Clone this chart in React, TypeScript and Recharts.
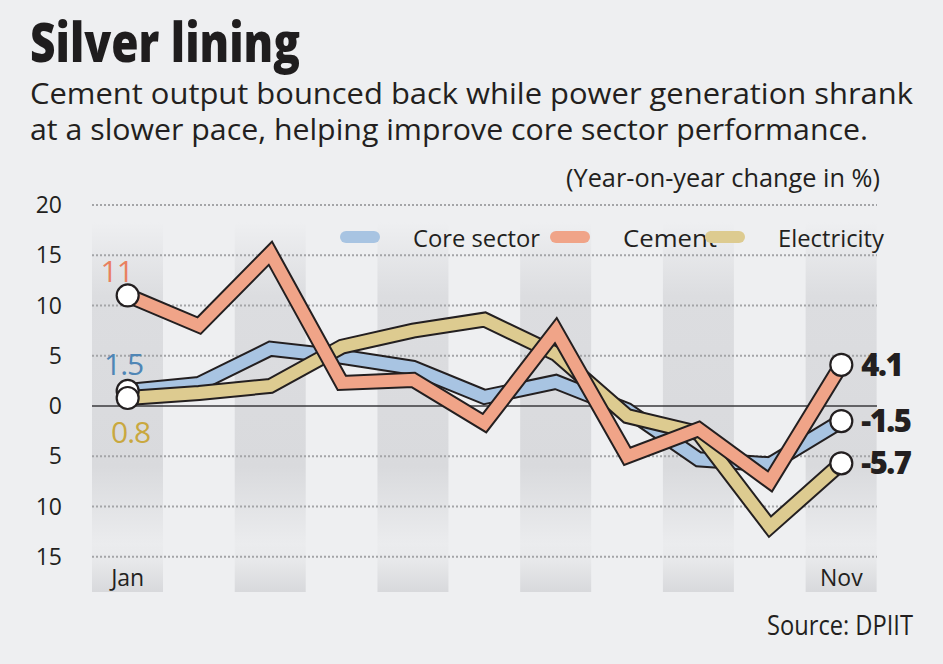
import React from 'react';
import { ComposedChart, Bar, Line, XAxis, YAxis, ReferenceLine } from 'recharts';

// ---- data ----
const months = ['Jan', 'Feb', 'Mar', 'Apr', 'May', 'Jun', 'Jul', 'Aug', 'Sep', 'Oct', 'Nov'];
const coreSector = [1.5, 2.2, 5.7, 4.9, 3.8, 0.9, 2.4, -0.4, -5.3, -5.8, -1.5];
const cement = [11, 8.0, 15.2, 2.3, 2.6, -1.7, 7.5, -5.0, -2.3, -7.5, 4.1];
const electricity = [0.8, 1.3, 2.0, 5.9, 7.5, 8.6, 5.2, -1.0, -2.7, -12.0, -5.7];
const yTicks = [-15, -10, -5, 0, 5, 10, 15, 20];
const shadedMonths = ['Jan', 'Mar', 'May', 'Jul', 'Sep', 'Nov'];
const seriesNames = ['Core sector', 'Cement', 'Electricity'];

const Y_MIN = -18.5;
const Y_MAX = 20;
const BAND_TOP = 18.3;

const data = months.map((m, i) => ({
  month: m,
  core: coreSector[i],
  cement: cement[i],
  electricity: electricity[i],
  band: shadedMonths.includes(m) ? [Y_MIN, BAND_TOP] : null,
}));

const BG = '#eeeff1';
const INK = '#231f20';
const FONT = '"Open Sans", "Noto Sans", sans-serif';

const series = [
  { key: 'core', name: seriesNames[0], color: '#a8c4e2', labelColor: '#4f86b6', firstDx: -4, firstDy: -16 },
  { key: 'cement', name: seriesNames[1], color: '#f0a488', labelColor: '#e9805f', firstDx: -11, firstDy: -13 },
  { key: 'electricity', name: seriesNames[2], color: '#ddcb90', labelColor: '#c9a83f', firstDx: 3, firstDy: 45 },
];

const makeDot = (s: any) => (props: any) => {
  const { cx, cy, index, value } = props;
  const last = months.length - 1;
  if (index !== 0 && index !== last) return <g key={`d-${s.key}-${index}`} />;
  return (
    <g key={`d-${s.key}-${index}`}>
      <circle cx={cx} cy={cy} r={11} fill="#ffffff" stroke={INK} strokeWidth={2.2} />
      {index === 0 ? (
        <text x={cx + s.firstDx} y={cy + s.firstDy} textAnchor="middle" fontFamily={FONT} fontSize={30}
          fill={s.labelColor} letterSpacing={-1}>
          {String(value)}
        </text>
      ) : (
        <text x={cx + 20} y={cy + 11} textAnchor="start" fontFamily={FONT} fontSize={31} fontWeight={800}
          fill={INK} letterSpacing={-1.5}>
          {value.toFixed(1)}
        </text>
      )}
    </g>
  );
};

const XTick = (props: any) => {
  const { x, y, payload, index } = props;
  const show = index === 0 || index === months.length - 1;
  if (!show) return <g />;
  return (
    <text x={x} y={y - 6} textAnchor="middle" fontFamily={FONT} fontSize={23} fill={INK}>
      {payload.value}
    </text>
  );
};

const LegendOverlay = () => {
  const pillX = [340, 550, 705];
  const textX = [413, 623, 778];
  const textLen = [127, 94, 106];
  return (
    <g>
      {series.map((s, i) => (
        <text key={s.key} x={textX[i]} y={247} fontFamily={FONT} fontSize={24} fill={INK} textLength={textLen[i]}
          lengthAdjust="spacingAndGlyphs">
          {s.name}
        </text>
      ))}
      {series.map((s, i) => (
        <rect key={`p-${s.key}`} x={pillX[i]} y={231} width={40} height={12} rx={6} fill={s.color} />
      ))}
    </g>
  );
};

export default function App() {
  return (
    <div style={{ position: 'fixed', left: 0, top: 0, width: 943, height: 664, background: BG, overflow: 'hidden' }}>
      <ComposedChart
        width={943}
        height={664}
        data={data}
        margin={{ top: 205, right: 66, bottom: 42, left: 0 }}
        barCategoryGap={0}
        barGap={0}
      >
        <defs>
          <linearGradient id="bandFill" x1="0" y1="0" x2="0" y2="1">
            <stop offset="0" stopColor="#eeeff1" />
            <stop offset="0.2" stopColor="#dcdde0" />
            <stop offset="0.66" stopColor="#d9dadd" />
            <stop offset="0.87" stopColor="#ebecee" />
            <stop offset="0.91" stopColor="#e8e9eb" />
            <stop offset="1" stopColor="#d8d9dc" />
          </linearGradient>
        </defs>
        <XAxis dataKey="month" axisLine={false} tickLine={false} tickSize={0} tickMargin={0} interval={0}
          height={30} tick={<XTick />} />
        <YAxis type="number" domain={[Y_MIN, Y_MAX]} ticks={yTicks} allowDataOverflow width={92}
          axisLine={false} tickLine={false} tickSize={0} tickMargin={30}
          tickFormatter={(v: number) => String(Math.abs(v))}
          tick={{ fontSize: 23, fill: INK, fontFamily: FONT }} />
        <Bar dataKey="band" fill="url(#bandFill)" isAnimationActive={false} legendType="none" />
        {yTicks.filter((t) => t !== 0).map((t) => (
          <ReferenceLine key={`g${t}`} y={t} stroke="#a4a5a8" strokeWidth={2} strokeDasharray="2 2" />
        ))}
        <ReferenceLine y={0} stroke="#3a3a3c" strokeWidth={1.6} />
        {[series[0], series[2], series[1]].map((s) => [
          <Line key={`o-${s.key}`} type="linear" dataKey={s.key} stroke={INK} strokeWidth={16} dot={false}
            isAnimationActive={false} legendType="none" strokeLinejoin="miter" />,
          <Line key={`c-${s.key}`} type="linear" dataKey={s.key} stroke={s.color} strokeWidth={12} dot={false}
            isAnimationActive={false} legendType="none" strokeLinejoin="miter" />,
        ])}
        {[series[1], series[0], series[2]].map((s) => (
          <Line key={`e-${s.key}`} type="linear" dataKey={s.key} stroke="none" strokeWidth={0}
            dot={makeDot(s)} activeDot={false} isAnimationActive={false} legendType="none" />
        ))}
      </ComposedChart>
      <svg width={943} height={664} style={{ position: 'absolute', left: 0, top: 0, pointerEvents: 'none' }}>
        <LegendOverlay />
        <text x={30} y={62} fontFamily={FONT} fontWeight={800} fontSize={54} fill="#1f1d1e" textLength={270}
          lengthAdjust="spacingAndGlyphs">Silver lining</text>
        <text x={30} y={104} fontFamily={FONT} fontSize={29} fill={INK} textLength={883}
          lengthAdjust="spacingAndGlyphs">Cement output bounced back while power generation shrank</text>
        <text x={30} y={140} fontFamily={FONT} fontSize={29} fill={INK} textLength={838}
          lengthAdjust="spacingAndGlyphs">at a slower pace, helping improve core sector performance.</text>
        <text x={566} y={187} fontFamily={FONT} fontSize={25} fill={INK} textLength={314}
          lengthAdjust="spacingAndGlyphs">(Year-on-year change in %)</text>
        <text x={767} y={635} fontFamily={FONT} fontSize={27} fill={INK} textLength={146}
          lengthAdjust="spacingAndGlyphs">Source: DPIIT</text>
      </svg>
    </div>
  );
}
